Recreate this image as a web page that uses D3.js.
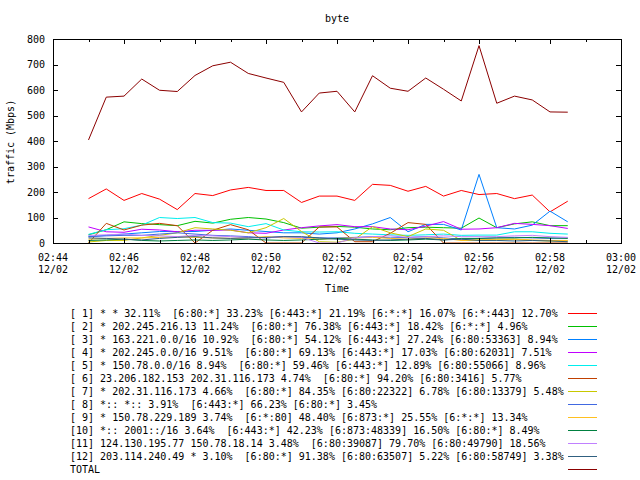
<!DOCTYPE html>
<html>
<head>
<meta charset="utf-8">
<script src="https://cdn.jsdelivr.net/npm/d3@7"></script>
<style>
  html, body { margin: 0; padding: 0; background: #fff; }
  svg { display: block; }
  text { font-family: "DejaVu Sans Mono", "Liberation Mono", monospace; font-size: 10px; fill: #000; }
</style>
</head>
<body>
<svg id="chart" width="640" height="480"></svg>
<script>
// ---- data ----
const startTime = "2012-02-12T02:45:00";
const stepSeconds = 30;

const seriesLabels = [
  "[ 1] * * 32.11%  [6:80:*] 33.23% [6:443:*] 21.19% [6:*:*] 16.07% [6:*:443] 12.70%",
  "[ 2] * 202.245.216.13 11.24%  [6:80:*] 76.38% [6:443:*] 18.42% [6:*:*] 4.96%",
  "[ 3] * 163.221.0.0/16 10.92%  [6:80:*] 54.12% [6:443:*] 27.24% [6:80:53363] 8.94%",
  "[ 4] * 202.245.0.0/16 9.51%  [6:80:*] 69.13% [6:443:*] 17.03% [6:80:62031] 7.51%",
  "[ 5] * 150.78.0.0/16 8.94%  [6:80:*] 59.46% [6:443:*] 12.89% [6:80:55066] 8.96%",
  "[ 6] 23.206.182.153 202.31.116.173 4.74%  [6:80:*] 94.20% [6:80:3416] 5.77%",
  "[ 7] * 202.31.116.173 4.66%  [6:80:*] 84.35% [6:80:22322] 6.78% [6:80:13379] 5.48%",
  "[ 8] *:: *:: 3.91%  [6:443:*] 66.23% [6:80:*] 3.45%",
  "[ 9] * 150.78.229.189 3.74%  [6:*:80] 48.40% [6:873:*] 25.55% [6:*:*] 13.34%",
  "[10] *:: 2001::/16 3.64%  [6:443:*] 42.23% [6:873:48339] 16.50% [6:80:*] 8.49%",
  "[11] 124.130.195.77 150.78.18.14 3.48%  [6:80:39087] 79.70% [6:80:49790] 18.56%",
  "[12] 203.114.240.49 * 3.10%  [6:80:*] 91.38% [6:80:63507] 5.22% [6:80:58749] 3.38%",
  "TOTAL"
];

const seriesColors = ["#ff0000", "#00c000", "#0080ff", "#c000ff", "#00eeee", "#c04000",
  "#c8c800", "#4169e1", "#ffc020", "#008040", "#c080ff", "#306080", "#8b0000"];

const s1  = [174, 212, 167, 194, 172, 131, 194, 186, 208, 218, 206, 206, 159, 184, 184, 167, 230, 226, 203, 222, 184, 206, 190, 194, 174, 188, 122, 164];
const s2  = [32, 52, 83, 76, 72, 68, 85, 78, 93, 100, 94, 80, 58, 62, 65, 62, 55, 52, 60, 62, 60, 58, 98, 60, 75, 83, 68, 68];
const s3  = [25, 30, 35, 40, 45, 45, 45, 50, 55, 50, 45, 40, 40, 35, 40, 55, 75, 100, 44, 73, 73, 51, 269, 60, 55, 70, 125, 83];
const s4  = [63, 44, 42, 54, 51, 44, 50, 50, 51, 40, 38, 51, 60, 67, 72, 64, 64, 55, 52, 66, 84, 54, 55, 60, 77, 73, 68, 57];
const s5  = [34, 52, 56, 70, 100, 96, 100, 80, 78, 64, 76, 51, 44, 43, 44, 38, 35, 32, 30, 32, 35, 30, 31, 31, 44, 44, 38, 35];
const s6  = [0, 77, 51, 70, 77, 68, 0, 50, 72, 52, 0, 0, 0, 63, 63, 5, 5, 38, 80, 73, 0, 0, 0, 0, 0, 0, 0, 0];
const s7  = [4, 10, 10, 20, 30, 40, 60, 55, 50, 40, 60, 96, 45, 5, 3, 15, 64, 40, 25, 55, 50, 10, 12, 12, 15, 10, 8, 8];
const s8  = [25, 28, 30, 30, 35, 40, 35, 30, 28, 25, 20, 25, 22, 20, 20, 22, 25, 20, 22, 25, 20, 15, 18, 20, 22, 20, 18, 20];
const s9  = [15, 18, 20, 20, 22, 25, 22, 20, 18, 20, 25, 20, 18, 15, 18, 20, 22, 18, 15, 20, 18, 10, 12, 15, 15, 12, 10, 10];
const s10 = [10, 12, 15, 10, 8, 10, 12, 10, 12, 15, 12, 10, 12, 15, 18, 15, 12, 10, 12, 15, 12, 18, 18, 20, 20, 22, 20, 18];
const s11 = [30, 32, 35, 30, 28, 25, 30, 28, 25, 22, 20, 25, 22, 0, 0, 20, 25, 28, 22, 25, 28, 25, 25, 25, 28, 30, 25, 22];
const s12 = [20, 18, 15, 12, 18, 22, 25, 20, 18, 20, 22, 25, 25, 20, 15, 12, 10, 12, 15, 18, 12, 15, 10, 10, 8, 10, 8, 5];
const total = [404, 572, 576, 643, 599, 594, 657, 695, 709, 665, 647, 630, 514, 588, 595, 514, 656, 607, 595, 647, 603, 557, 774, 548, 576, 561, 514, 513];

const yTicks = [0, 100, 200, 300, 400, 500, 600, 700, 800];
const xDomain = ["2012-02-12T02:44:00", "2012-02-12T03:00:00"];

const titleText = "byte";
const xAxisTitle = "Time";
const yAxisTitle = "traffic (Mbps)";

// ---- chart ----
const allSeries = [s1, s2, s3, s4, s5, s6, s7, s8, s9, s10, s11, s12, total];
const t0 = new Date(startTime);
const times = total.map((_, i) => new Date(t0.getTime() + i * stepSeconds * 1000));

const svg = d3.select("#chart");
const m = { left: 53, right: 621, top: 39, bottom: 243 };

const x = d3.scaleTime().domain(xDomain.map(d => new Date(d))).range([m.left, m.right]);
const y = d3.scaleLinear().domain([0, 800]).range([m.bottom, m.top]);

// title
svg.append("text").attr("x", (m.left + m.right) / 2).attr("y", 22)
  .attr("text-anchor", "middle").text(titleText);

// series lines
const line = d3.line().x((d, i) => x(times[i])).y(d => y(d));
allSeries.forEach((s, k) => {
  svg.append("path").datum(s)
    .attr("d", line)
    .attr("fill", "none")
    .attr("stroke", seriesColors[k])
    .attr("stroke-width", 1);
});

// axes
const majorTicks = d3.timeMinute.every(2).range(new Date(xDomain[0]), new Date(new Date(xDomain[1]).getTime() + 1));
const minorTicks = d3.timeMinute.every(1).range(new Date(xDomain[0]), new Date(new Date(xDomain[1]).getTime() + 1));
const fmt1 = d3.timeFormat("%H:%M");
const fmt2 = d3.timeFormat("%d/%m");

const axG = svg.append("g").attr("shape-rendering", "crispEdges").attr("stroke", "#000");

// bottom axis via d3.axisBottom (positions only)
const xAxis = d3.axisBottom(x).tickValues(majorTicks).tickSize(0).tickFormat("");
svg.append("g").attr("transform", `translate(0,${m.bottom})`).call(xAxis)
  .call(g => g.select(".domain").remove());

// tick marks (inward, mirrored)
minorTicks.forEach(t => {
  const isMajor = t.getMinutes() % 2 === 0;
  const len = isMajor ? 5 : 3;
  const px = Math.round(x(t)) + 0.5;
  axG.append("line").attr("x1", px).attr("x2", px).attr("y1", m.bottom).attr("y2", m.bottom - len);
  axG.append("line").attr("x1", px).attr("x2", px).attr("y1", m.top).attr("y2", m.top + len);
});
yTicks.forEach(v => {
  const py = Math.round(y(v)) + 0.5;
  axG.append("line").attr("x1", m.left).attr("x2", m.left + 5).attr("y1", py).attr("y2", py);
  axG.append("line").attr("x1", m.right).attr("x2", m.right - 5).attr("y1", py).attr("y2", py);
  svg.append("text").attr("x", m.left - 8).attr("y", y(v) + 3.5)
    .attr("text-anchor", "end").text(v);
});

// x tick labels
majorTicks.forEach(t => {
  const g = svg.append("g");
  g.append("text").attr("x", x(t)).attr("y", 261).attr("text-anchor", "middle").text(fmt1(t));
  g.append("text").attr("x", x(t)).attr("y", 273).attr("text-anchor", "middle").text(fmt2(t));
});

// border
axG.append("rect").attr("x", m.left + 0.5).attr("y", m.top + 0.5)
  .attr("width", m.right - m.left).attr("height", m.bottom - m.top)
  .attr("fill", "none").attr("stroke-width", 1);

// axis titles
svg.append("text").attr("x", (m.left + m.right) / 2).attr("y", 292)
  .attr("text-anchor", "middle").text(xAxisTitle);
svg.append("text").attr("transform", `translate(14,${142}) rotate(-90)`)
  .attr("text-anchor", "middle").text(yAxisTitle);

// legend
const legY0 = 313, legDy = 13;
seriesLabels.forEach((lab, k) => {
  const ly = legY0 + k * legDy;
  svg.append("text").attr("x", 70).attr("y", ly + 3.5).attr("xml:space", "preserve")
    .style("white-space", "pre").text(lab);
  svg.append("line").attr("x1", 568).attr("x2", 597)
    .attr("y1", Math.round(ly) + 0.5).attr("y2", Math.round(ly) + 0.5)
    .attr("stroke", seriesColors[k]).attr("shape-rendering", "crispEdges");
});
</script>
</body>
</html>
